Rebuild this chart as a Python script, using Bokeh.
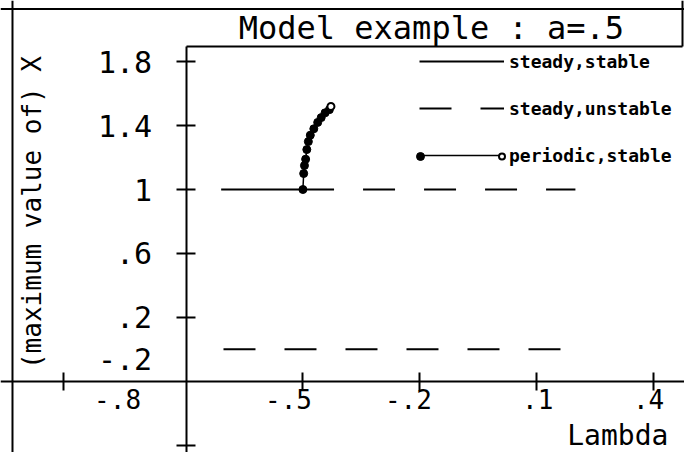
from bokeh.plotting import figure
from bokeh.models import (Range1d, LinearAxis, FixedTicker, Span,
                          Label, Legend, LegendItem)
from bokeh.embed import file_html
from bokeh.resources import INLINE

# ---- data ----
stable_x = [-0.71, -0.42]
stable_y = [1.0, 1.0]
unstable_hi_x = [-0.42, 0.20]
unstable_hi_y = [1.0, 1.0]
unstable_lo_x = [-0.704, 0.20]
unstable_lo_y = [0.0, 0.0]
periodic_x = [-0.500, -0.498, -0.496, -0.493, -0.490, -0.486, -0.481,
              -0.472, -0.462, -0.453, -0.443, -0.432, -0.428]
periodic_y = [1.00, 1.10, 1.15, 1.19, 1.25, 1.30, 1.34,
              1.38, 1.42, 1.45, 1.48, 1.50, 1.52]

y_ticks = [1.8, 1.4, 1.0, 0.6, 0.2, -0.6]
y_tick_labels = ["1.8", "1.4", "1", ".6", ".2", ""]
y_extra_pos = [-0.058]
y_extra_labels = ["-.2"]
x_tick_marks = [-1.115, -0.5, -0.2, 0.1, 0.4]
x_label_pos = [-0.976, -0.537, -0.229, 0.103, 0.388]
x_tick_labels = ["-.8", "-.5", "-.2", ".1", ".4"]

title_text = "Model example : a=.5"
ylabel_text = "(maximum value of) X"
xlabel_text = "Lambda"

MONO = "DejaVu Sans Mono"
X0, X1 = -1.2768, 0.4802
Y0, Y1 = -0.6463, 2.1831
BOX_BOTTOM, BOX_RIGHT = 1.895, 0.475

p = figure(width=684, height=452, x_range=Range1d(X0, X1), y_range=Range1d(Y0, Y1),
           x_axis_type=None, y_axis_type=None, toolbar_location=None,
           output_backend="svg", min_border=0)
p.outline_line_color = None
p.background_fill_color = "white"
p.border_fill_color = "white"


def plain_axis(side, loc, bounds):
    ax = LinearAxis(fixed_location=loc, ticker=FixedTicker(ticks=[]), bounds=bounds)
    ax.axis_line_width = 2
    ax.axis_line_color = "black"
    ax.major_tick_line_color = None
    ax.minor_tick_line_color = None
    p.add_layout(ax, side)


# y axis at x = -0.8
yax = LinearAxis(fixed_location=-0.8, ticker=FixedTicker(ticks=y_ticks),
                 bounds=(Y0, BOX_BOTTOM))
yax.major_label_overrides = {t: l for t, l in zip(y_ticks, y_tick_labels)}
yax.major_tick_in = 9
yax.major_tick_out = 10
yax.minor_tick_line_color = None
yax.axis_line_width = 2
yax.major_tick_line_width = 2
yax.major_label_standoff = 24
yax.major_label_text_font = MONO
yax.major_label_text_font_size = "30px"
yax.major_label_text_color = "black"
p.add_layout(yax, "left")

yax2 = LinearAxis(fixed_location=-0.8, ticker=FixedTicker(ticks=y_extra_pos))
yax2.major_label_overrides = {t: l for t, l in zip(y_extra_pos, y_extra_labels)}
yax2.axis_line_color = None
yax2.major_tick_line_color = None
yax2.minor_tick_line_color = None
yax2.major_tick_in = 0
yax2.major_tick_out = 0
yax2.major_label_standoff = 34
yax2.major_label_text_font = MONO
yax2.major_label_text_font_size = "30px"
yax2.major_label_text_color = "black"
p.add_layout(yax2, "left")

# x axis at y = -0.2
xax = LinearAxis(fixed_location=-0.2, ticker=FixedTicker(ticks=x_tick_marks))
xax.major_label_overrides = {t: "" for t in x_tick_marks}
xax.major_tick_in = 9
xax.major_tick_out = 9
xax.minor_tick_line_color = None
xax.axis_line_width = 2
xax.major_tick_line_width = 2
p.add_layout(xax, "below")

xax2 = LinearAxis(fixed_location=-0.2, ticker=FixedTicker(ticks=x_label_pos))
xax2.major_label_overrides = {t: l for t, l in zip(x_label_pos, x_tick_labels)}
xax2.axis_line_color = None
xax2.major_tick_line_color = None
xax2.minor_tick_line_color = None
xax2.major_tick_in = 0
xax2.major_tick_out = 0
xax2.major_label_standoff = 8
xax2.major_label_text_font = MONO
xax2.major_label_text_font_size = "26px"
xax2.major_label_text_color = "black"
p.add_layout(xax2, "below")

# outer frame lines and the title box
p.add_layout(Span(location=2.130, dimension="width", line_color="black", line_width=2))
p.add_layout(Span(location=-1.246, dimension="height", line_color="black", line_width=2))
plain_axis("above", BOX_BOTTOM, (-0.8, BOX_RIGHT))
plain_axis("right", BOX_RIGHT, (BOX_BOTTOM, Y1))

# data
r_stable = p.line(stable_x, stable_y, line_color="black", line_width=2)
r_hi = p.line(unstable_hi_x, unstable_hi_y, line_color="black", line_width=2,
              line_dash="32 29", line_dash_offset=32)
r_lo = p.line(unstable_lo_x, unstable_lo_y, line_color="black", line_width=2,
              line_dash="32 29")
r_per = p.line(periodic_x, periodic_y, line_color="black", line_width=1.5)
r_pts = p.scatter(periodic_x[:-1], periodic_y[:-1], size=8, fill_color="black",
                  line_color="black")
r_end = p.scatter(periodic_x[-1:], periodic_y[-1:], size=7, fill_color="white",
                  line_color="black", line_width=2)


def style_legend(lg):
    lg.border_line_color = None
    lg.background_fill_alpha = 0
    lg.padding = 0
    lg.margin = 0
    lg.label_text_font = MONO
    lg.label_text_font_style = "bold"
    lg.label_text_font_size = "18px"
    lg.label_text_color = "black"


legend = Legend(items=[
    LegendItem(label="steady,stable", renderers=[r_stable]),
    LegendItem(label="steady,unstable", renderers=[r_lo]),
    LegendItem(label="periodic,stable", renderers=[r_per]),
], location=(419, 285))
style_legend(legend)
legend.spacing = 23
legend.glyph_width = 85
legend.glyph_height = 24
legend.label_height = 24
legend.label_standoff = 5
p.add_layout(legend)

# end markers of the periodic-branch legend sample
for rend, vx, w in ((r_pts, 410, 20), (r_end, 494, 15)):
    lg = Legend(items=[LegendItem(label="", renderers=[rend])], location=(vx, 284))
    style_legend(lg)
    lg.glyph_width = w
    lg.glyph_height = 24
    lg.label_height = 24
    lg.label_width = 0
    lg.label_standoff = 0
    p.add_layout(lg)

p.add_layout(Label(x=-0.170, y=2.014, text=title_text, text_align="center",
                   text_baseline="middle", text_font=MONO, text_font_size="32px",
                   text_color="black"))
p.add_layout(Label(x=-1.195, y=0.856, text=ylabel_text, angle=90, angle_units="deg",
                   text_align="center", text_baseline="middle", text_font=MONO,
                   text_font_size="26px", text_color="black"))
p.add_layout(Label(x=0.179, y=-0.540, text=xlabel_text, text_align="left",
                   text_baseline="middle", text_font=MONO, text_font_size="28px",
                   text_color="black"))

open("out.html", "w").write(file_html(p, INLINE))
